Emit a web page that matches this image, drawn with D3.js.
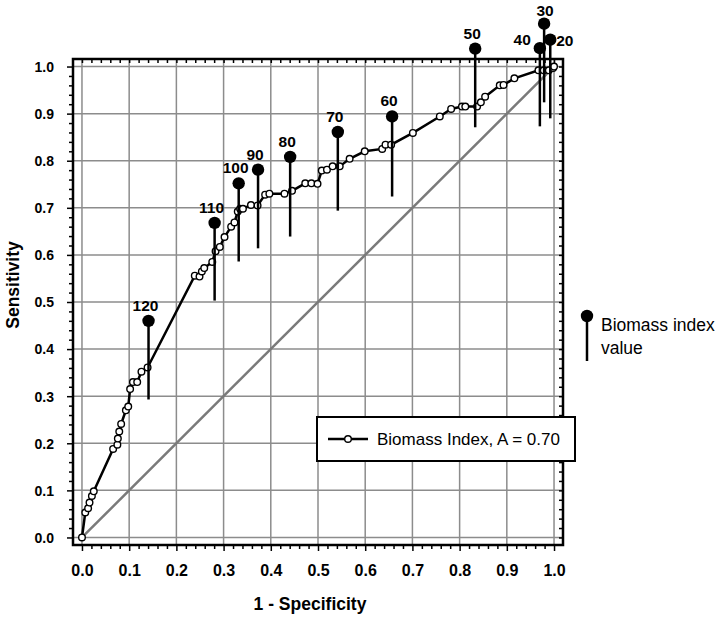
<!DOCTYPE html>
<html>
<head>
<meta charset="utf-8">
<script src="https://cdn.jsdelivr.net/npm/d3@7"></script>
<style>
  body { margin: 0; background: #fff; }
  svg { display: block; font-family: "Liberation Sans", Arial, sans-serif; }
</style>
</head>
<body>
<svg id="chart" width="720" height="621"></svg>
<script>
// ROC curve points (1 - specificity, sensitivity)
const rocFpr = [0, 0.007, 0.013, 0.016, 0.021, 0.025, 0.066, 0.075, 0.076, 0.079, 0.083, 0.093, 0.098,
  0.102, 0.108, 0.117, 0.126, 0.139, 0.239, 0.249, 0.254, 0.259, 0.276, 0.283, 0.292, 0.302, 0.316,
  0.323, 0.330, 0.335, 0.341, 0.358, 0.372, 0.388, 0.397, 0.429, 0.445, 0.473, 0.486, 0.499, 0.508,
  0.519, 0.531, 0.546, 0.567, 0.599, 0.636, 0.643, 0.655, 0.701, 0.758, 0.782, 0.805, 0.812, 0.837,
  0.845, 0.854, 0.885, 0.893, 0.916, 0.967, 0.978, 0.989, 0.998];
const rocTpr = [0, 0.053, 0.062, 0.074, 0.088, 0.098, 0.188, 0.197, 0.210, 0.225, 0.241, 0.270, 0.278,
  0.315, 0.330, 0.330, 0.352, 0.361, 0.556, 0.554, 0.565, 0.572, 0.585, 0.608, 0.617, 0.638, 0.660,
  0.669, 0.692, 0.698, 0.698, 0.706, 0.705, 0.728, 0.730, 0.730, 0.736, 0.752, 0.752, 0.751, 0.779,
  0.781, 0.788, 0.788, 0.804, 0.820, 0.825, 0.834, 0.834, 0.859, 0.894, 0.910, 0.915, 0.915, 0.915,
  0.924, 0.936, 0.960, 0.961, 0.975, 0.992, 0.992, 0.992, 0.997];

// biomass index value markers: x position, pin head, pin foot
const biomassValues = [120, 110, 100, 90, 80, 70, 60, 50, 40, 30, 20];
const biomassX    = [0.141, 0.281, 0.332, 0.373, 0.441, 0.542, 0.657, 0.833, 0.970, 0.979, 0.992];
const biomassTop  = [0.460, 0.668, 0.752, 0.781, 0.808, 0.861, 0.894, 1.038, 1.039, 1.091, 1.057];
const biomassFoot = [0.293, 0.503, 0.586, 0.614, 0.639, 0.694, 0.724, 0.871, 0.873, 0.924, 0.890];

const majorTicks = d3.range(0, 11).map(i => i / 10);
const minorTicks = d3.range(0, 51).map(i => i / 50).filter(v => Math.round(v * 50) % 5 !== 0);

const svg = d3.select("#chart");
const frame = { left: 73, right: 563, top: 59, bottom: 545 };

const x = d3.scaleLinear().domain([-0.019, 1.019]).range([frame.left, frame.right]);
const y = d3.scaleLinear().domain([-0.016, 1.016]).range([frame.bottom, frame.top]);

// grid
const grid = svg.append("g").attr("stroke", "#8c8c8c").attr("stroke-width", 1.5);
grid.selectAll(".gx").data(majorTicks).enter().append("line")
  .attr("x1", d => x(d)).attr("x2", d => x(d))
  .attr("y1", frame.top).attr("y2", frame.bottom);
grid.selectAll(".gy").data(majorTicks).enter().append("line")
  .attr("y1", d => y(d)).attr("y2", d => y(d))
  .attr("x1", frame.left).attr("x2", frame.right);

// chance diagonal
svg.append("line")
  .attr("x1", x(0)).attr("y1", y(0)).attr("x2", x(1)).attr("y2", y(1))
  .attr("stroke", "#7a7a7a").attr("stroke-width", 2.5);

// axes
const fmt = d3.format(".1f");
const xAxis = svg.append("g").attr("transform", `translate(0,${frame.bottom})`)
  .call(d3.axisBottom(x).tickValues(majorTicks).tickFormat(fmt).tickSize(6).tickPadding(14));
const xMinor = svg.append("g").attr("transform", `translate(0,${frame.bottom})`)
  .call(d3.axisBottom(x).tickValues(minorTicks).tickFormat("").tickSize(4));
const yAxis = svg.append("g").attr("transform", `translate(${frame.left},0)`)
  .call(d3.axisLeft(y).tickValues(majorTicks).tickFormat(fmt).tickSize(6).tickPadding(13));
const yMinor = svg.append("g").attr("transform", `translate(${frame.left},0)`)
  .call(d3.axisLeft(y).tickValues(minorTicks).tickFormat("").tickSize(4));
const topAxis = svg.append("g").attr("transform", `translate(0,${frame.top})`)
  .call(d3.axisBottom(x).tickValues(minorTicks.concat(majorTicks)).tickFormat("").tickSize(4));
const rightAxis = svg.append("g").attr("transform", `translate(${frame.right},0)`)
  .call(d3.axisLeft(y).tickValues(minorTicks.concat(majorTicks)).tickFormat("").tickSize(4));

[xAxis, xMinor, yAxis, yMinor, topAxis, rightAxis].forEach(g => {
  g.select(".domain").remove();
  g.selectAll(".tick line").attr("stroke", "#000").attr("stroke-width", 1.5);
  g.selectAll("text").attr("fill", "#000").style("font-weight", "bold");
});
xAxis.selectAll("text").style("font-size", "16px");
yAxis.selectAll("text").style("font-size", "14px").attr("dy", "0.35em");

// frame
svg.append("rect")
  .attr("x", frame.left).attr("y", frame.top)
  .attr("width", frame.right - frame.left).attr("height", frame.bottom - frame.top)
  .attr("fill", "none").attr("stroke", "#000").attr("stroke-width", 2.5);

// ROC curve
const roc = rocFpr.map((v, i) => [v, rocTpr[i]]);
roc.push([1, 1]);
svg.append("path")
  .datum(roc)
  .attr("d", d3.line().x(d => x(d[0])).y(d => y(d[1])))
  .attr("fill", "none").attr("stroke", "#000").attr("stroke-width", 2.5);
svg.append("g").selectAll("circle").data(roc).enter().append("circle")
  .attr("cx", d => x(d[0])).attr("cy", d => y(d[1])).attr("r", 3.3)
  .attr("fill", "#fff").attr("stroke", "#000").attr("stroke-width", 1.4);

// biomass index pins
const pins = svg.append("g");
biomassValues.forEach((v, i) => {
  const px = x(biomassX[i]), top = y(biomassTop[i]);
  pins.append("line")
    .attr("x1", px).attr("x2", px).attr("y1", top).attr("y2", y(biomassFoot[i]))
    .attr("stroke", "#000").attr("stroke-width", 2.5);
  pins.append("circle").attr("cx", px).attr("cy", top).attr("r", 6.2).attr("fill", "#000");
  // labels sit a little left of the pin, except the crowded ones at the top right
  let tx = px - 3, ty = top - 10, anchor = "middle";
  if (v === 30) { tx = px + 1; ty = top - 7.5; }
  if (v === 40) { tx = px - 9; ty = top - 3; anchor = "end"; }
  if (v === 20) { tx = px + 6; ty = top + 6; anchor = "start"; }
  pins.append("text")
    .attr("x", tx).attr("y", ty).attr("text-anchor", anchor)
    .style("font-size", "15.5px").style("font-weight", "bold")
    .text(v);
});

// axis titles
svg.append("text")
  .attr("x", 310).attr("y", 610).attr("text-anchor", "middle")
  .style("font-size", "17.5px").style("font-weight", "bold")
  .text("1 - Specificity");
svg.append("text")
  .attr("transform", "translate(19,285) rotate(-90)").attr("text-anchor", "middle")
  .style("font-size", "17.5px").style("font-weight", "bold")
  .text("Sensitivity");

// curve legend
const leg = svg.append("g");
leg.append("rect").attr("x", 317).attr("y", 417).attr("width", 258).attr("height", 44)
  .attr("fill", "#fff").attr("stroke", "#000").attr("stroke-width", 2);
leg.append("line").attr("x1", 328).attr("x2", 368).attr("y1", 439).attr("y2", 439)
  .attr("stroke", "#000").attr("stroke-width", 2.5);
leg.append("circle").attr("cx", 348).attr("cy", 439).attr("r", 3.3)
  .attr("fill", "#fff").attr("stroke", "#000").attr("stroke-width", 1.4);
leg.append("text").attr("x", 377).attr("y", 445)
  .style("font-size", "17px").text("Biomass Index, A = 0.70");

// pin legend
const pinLeg = svg.append("g");
pinLeg.append("line").attr("x1", 587).attr("x2", 587).attr("y1", 316).attr("y2", 361)
  .attr("stroke", "#000").attr("stroke-width", 2.5);
pinLeg.append("circle").attr("cx", 587).attr("cy", 316).attr("r", 6.2).attr("fill", "#000");
pinLeg.append("text").attr("x", 601).attr("y", 331).style("font-size", "17.5px").text("Biomass index");
pinLeg.append("text").attr("x", 601).attr("y", 354).style("font-size", "17.5px").text("value");
</script>
</body>
</html>
